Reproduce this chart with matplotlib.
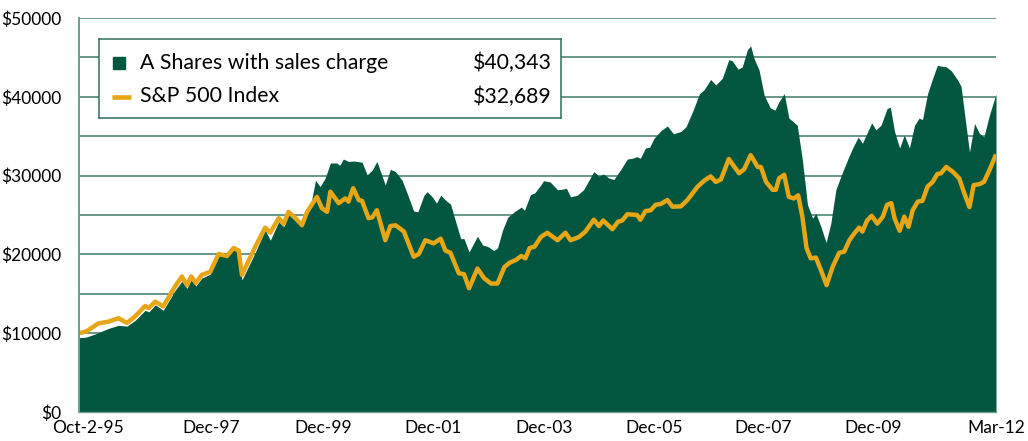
"""Growth of $10,000: A Shares vs S&P 500 (Oct-95 .. Mar-12)."""

import matplotlib
matplotlib.use("Agg")
import matplotlib.pyplot as plt

# ── Colours ────────────────────────────────────────────────────────
GREEN = "#03563f"
GOLD = "#e6a617"
GRID = "#3f7a68"
AXIS = "#6a9e8e"
FONT = "Lato"

# ── Data (months after Oct-2-95, value in $) ───────────────────────
a_month = [0, 1.5, 3.5, 6.3, 8.5, 10.3, 12, 14.2, 15, 16.4, 18.1, 20.6, 22.1, 23.2,
           24.1, 25.1, 26.4, 28.2, 30, 31.8, 33.2, 34.3, 35, 37.9, 40, 41.1, 42.9,
           44, 45, 46.5, 47.9, 49.7, 50.8, 51.8, 52.9, 54, 55.4, 56, 56.8, 57.9,
           59, 60.8, 61.9, 63, 64, 65.8, 66.9, 68, 69.4, 70.5, 71.9, 72.8, 74.1,
           74.8, 75.9, 76.8, 77.7, 79.1, 79.8, 82, 82.7, 83.8, 85.6, 86.7, 87.8,
           89.1, 89.9, 91, 92.1, 93.5, 95, 95.7, 97, 97.9, 99.2, 99.8, 101.2,
           102.8, 104.1, 104.7, 105.6, 107, 108.4, 110.6, 111.7, 112.7, 113.8,
           114.9, 116.3, 117.8, 118.9, 119.8, 120.6, 121.7, 122.6, 123.5, 125,
           126.4, 127.7, 129.3, 130.4, 131.8, 133.3, 134.3, 135.7, 136.8, 138.2,
           139.6, 140.3, 141.6, 142.5, 143.6, 144.3, 145, 146.1, 147.2, 148.5,
           149.5, 150.4, 151.5, 152.5, 154.3, 155.4, 156.5, 157.6, 158.3, 159.4,
           160.5, 161.5, 162.6, 163.7, 165.1, 166.2, 167.4, 168.3, 169.3, 170.3,
           171.2, 172.3, 173.6, 174.3, 175.2, 176.3, 177.3, 178.4, 179.5, 180.5,
           181.2, 182.3, 183.4, 184.4, 185.1, 186.3, 187.4, 188.8, 189.5, 190.4,
           191.3, 192.4, 193.4, 194.4, 195.6, 196.7, 197]
a_value = [9425, 9500, 9900, 10600, 11000, 10900, 11600, 12900, 12700, 13600, 12900,
           15400, 16600, 15700, 16750, 16000, 17000, 17500, 20200, 20200, 20800,
           20600, 16750, 20300, 23100, 21800, 24150, 23500, 25500, 24600, 24000,
           26050, 29400, 28600, 29700, 31600, 31600, 31300, 32100, 31800, 31850,
           31700, 30100, 30700, 31800, 28800, 30800, 30500, 29400, 27750, 25500,
           25400, 27500, 27960, 27300, 26500, 27500, 26700, 26400, 22000, 22000,
           20300, 22300, 21200, 21000, 20500, 20800, 23100, 24700, 25400, 26000,
           25600, 27600, 27800, 28800, 29350, 29200, 28200, 28300, 28400, 27300,
           27500, 28200, 30500, 29950, 30200, 29700, 29500, 30700, 32100, 32200,
           32400, 32200, 33500, 33600, 34700, 35700, 36300, 35300, 35600, 36200,
           38100, 40400, 40900, 42200, 41500, 42350, 44700, 44600, 43500, 43800,
           46000, 46450, 44900, 43400, 40200, 38600, 38300, 39400, 40400, 37300,
           36400, 32000, 26300, 24600, 25200, 23500, 21500, 23900, 28200, 29950,
           32000, 33500, 34900, 34100, 35400, 36700, 35800, 36400, 38500, 38700,
           35600, 33500, 35150, 33500, 36400, 37300, 37100, 40400, 42350, 44000,
           43900, 43800, 43300, 42100, 41300, 37100, 33000, 36600, 35400, 34900,
           37700, 39800, 40343]

sp_month = [0, 1.5, 4.2, 6.3, 8.5, 10.3, 12, 14.2, 15, 16.4, 18.1, 20.6, 22.1, 23.2,
            24.1, 25.1, 26.4, 28.2, 30, 31.8, 33.2, 34.3, 35, 37.9, 40, 41.1, 42.9,
            44, 45, 46.5, 47.9, 49, 51.1, 52.2, 53.3, 54, 55.8, 57.2, 57.9, 58.9,
            60.1, 60.8, 62.2, 63, 64, 65.8, 66.9, 68, 69.8, 71.9, 73, 74.4, 76.2,
            77.7, 78.7, 79.8, 81.6, 82.7, 83.8, 85.6, 87, 88.5, 89.9, 91.4, 92.5,
            93.9, 95, 95.9, 96.8, 97.9, 99.2, 100.6, 102.8, 104.5, 105.6, 107.4,
            108.8, 110.6, 111.7, 112.6, 114.6, 115.8, 116.7, 117.8, 119.9, 120.6,
            121.7, 122.8, 123.9, 125, 126.4, 127.5, 129.3, 130.7, 132.9, 134.3,
            135.7, 136.8, 137.9, 139.6, 141.8, 142.9, 144.3, 145.8, 146.5, 147.6,
            149, 149.7, 150.4, 151.5, 152.5, 153.6, 154.5, 155.4, 156.3, 157.2,
            158.3, 159.4, 160.6, 161.9, 163.3, 164.4, 165.5, 166.6, 167.6, 168.3,
            169.3, 170.3, 171.5, 172.7, 173.6, 174.5, 175.2, 176.3, 177.3, 178.2,
            179.1, 180.2, 181.2, 182.3, 183.4, 184.4, 185.2, 186.3, 187.7, 189.1,
            190.2, 191.3, 192.2, 193.4, 194.4, 195.6, 197]
sp_value = [10000, 10200, 11250, 11460, 11900, 11300, 12100, 13450, 13200, 14000,
            13400, 15900, 17200, 16100, 17200, 16400, 17400, 17800, 20050, 19800,
            20800, 20500, 17400, 21000, 23400, 22750, 24600, 23900, 25400, 24600,
            23700, 25400, 27300, 25850, 25400, 27960, 26500, 27100, 26700, 28400,
            26900, 26800, 24600, 24700, 25600, 21800, 23600, 23700, 22900, 19700,
            20050, 21800, 21400, 22000, 20500, 20200, 17600, 17500, 15700, 18200,
            17000, 16300, 16300, 18400, 18950, 19300, 19800, 19500, 20800, 21000,
            22200, 22750, 21800, 22750, 21800, 22200, 22900, 24400, 23600, 24300,
            23200, 24150, 24300, 25100, 25000, 24400, 25500, 25600, 26300, 26400,
            26900, 26050, 26100, 26900, 28600, 29350, 29900, 29200, 29500, 32100,
            30300, 30800, 32600, 31100, 31100, 29200, 28200, 28200, 29650, 30100,
            27300, 27100, 27500, 24800, 20800, 19500, 19600, 18000, 16100, 18400,
            20200, 20350, 21800, 22700, 23400, 22900, 24300, 24900, 23900, 24800,
            26300, 26500, 24600, 23000, 24800, 23500, 25600, 26700, 26800, 28600,
            29200, 30200, 30300, 31100, 30500, 29650, 27750, 26000, 28800, 28900,
            29200, 30700, 32689]

x_labels = ["Oct-2-95", "Dec-97", "Dec-99", "Dec-01", "Dec-03",
            "Dec-05", "Dec-07", "Dec-09", "Mar-12"]
x_label_pos = [2, 28.5, 52.5, 76, 100, 123.5, 147, 170.5, 197]

legend_names = ["A Shares with sales charge", "S&P 500 Index"]
legend_values = ["$40,343", "$32,689"]

# ── Figure ─────────────────────────────────────────────────────────
W, H = 1028, 441
fig = plt.figure(figsize=(W / 100, H / 100), dpi=100)
fig.patch.set_facecolor("white")
ax = fig.add_axes([79 / W, (H - 412) / H, (996 - 79) / W, (412 - 18) / H])

# grid behind the area
for y in range(0, 50001, 5000):
    ax.axhline(y, color=GRID, linewidth=1.1, zorder=0)

ax.fill_between(a_month, a_value, 0, color=GREEN, linewidth=0, zorder=1)
ax.plot(sp_month, sp_value, color=GOLD, linewidth=3.2,
        solid_joinstyle="round", solid_capstyle="butt", zorder=2)

ax.set_xlim(0, 197)
ax.set_ylim(0, 50000)
ax.set_yticks(range(0, 50001, 10000))
ax.set_yticklabels([f"${v}" for v in range(0, 50001, 10000)])
ax.set_xticks(x_label_pos)
ax.set_xticklabels(x_labels)
ax.tick_params(length=0, labelsize=12.5, labelcolor="black")
ax.tick_params(axis="y", pad=13)
ax.tick_params(axis="x", pad=6)
for lbl in ax.get_xticklabels() + ax.get_yticklabels():
    lbl.set_fontfamily(FONT)

for side in ("top", "right"):
    ax.spines[side].set_visible(False)
ax.spines["left"].set_color(AXIS)
ax.spines["left"].set_linewidth(1.4)
ax.spines["bottom"].set_color(AXIS)
ax.spines["bottom"].set_linewidth(1.0)

# ── Legend box (drawn by hand, pixel units inside the box) ─────────
lx0, ly0, lx1, ly1 = 99, 39, 561, 118
lax = fig.add_axes([lx0 / W, (H - ly1) / H, (lx1 - lx0) / W, (ly1 - ly0) / H])
lax.set_xlim(0, lx1 - lx0)
lax.set_ylim(ly1 - ly0, 0)
lax.set_xticks([])
lax.set_yticks([])
lax.set_facecolor("white")
for sp in lax.spines.values():
    sp.set_color("#2f6e5c")
    sp.set_linewidth(1.1)

row_y = [24, 57.5]
lax.plot([19.5], [row_y[0]], marker="s", markersize=9, color=GREEN, linestyle="none")
lax.plot([13, 32], [row_y[1], row_y[1]], color=GOLD, linewidth=3.3,
         solid_capstyle="butt")
for y, name, val in zip(row_y, legend_names, legend_values):
    lax.text(41, y, name, fontsize=15.3, family=FONT, va="center", ha="left")
    lax.text(453, y, val, fontsize=15.3, family=FONT, va="center", ha="right")

fig.savefig("out.png", dpi=100, facecolor="white")
